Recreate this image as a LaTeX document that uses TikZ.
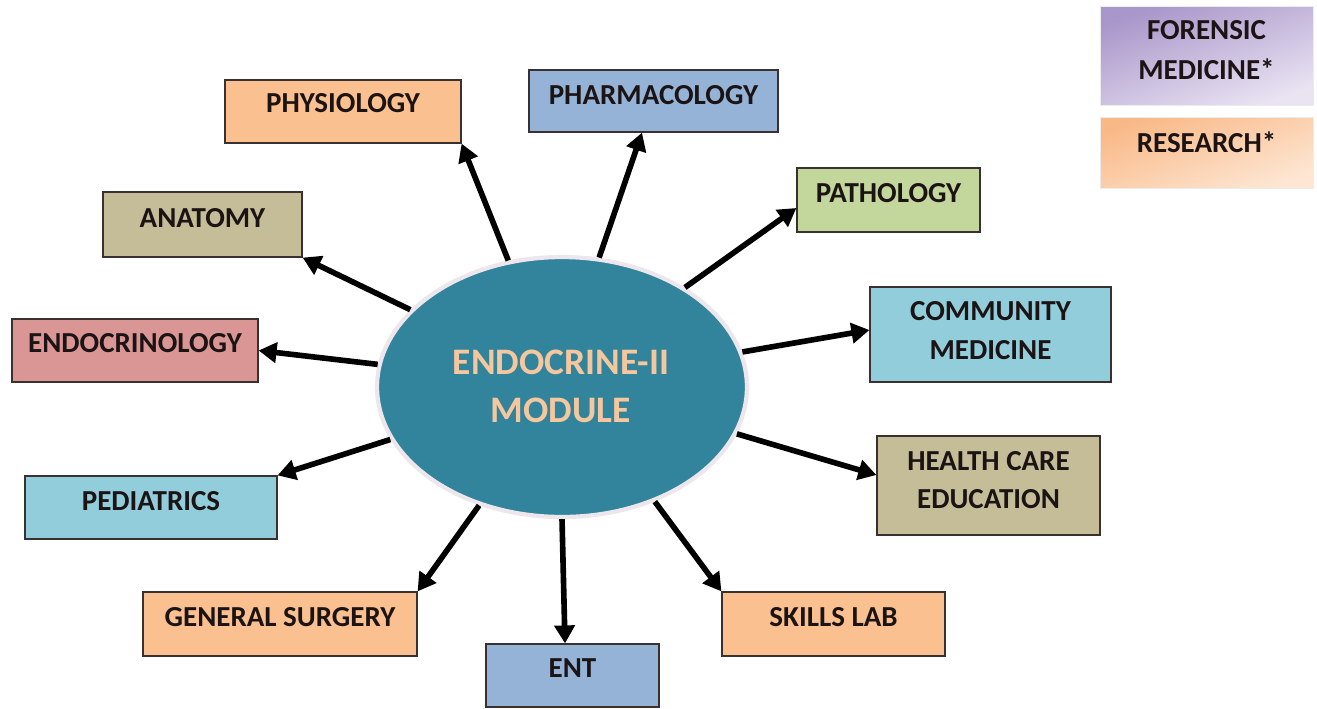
\documentclass[tikz,border=0pt]{standalone}
\usepackage{fontspec}
\setmainfont{Carlito}
\usetikzlibrary{arrows.meta,shapes.geometric,calc}
\definecolor{peach}{HTML}{FAC090}
\definecolor{steel}{HTML}{95B3D7}
\definecolor{olive}{HTML}{C3D69B}
\definecolor{aqua}{HTML}{92CDDC}
\definecolor{khaki}{HTML}{C4BD97}
\definecolor{rose}{HTML}{D99694}
\definecolor{teal}{HTML}{31849B}
\definecolor{etext}{HTML}{F5C79E}
\definecolor{boxline}{HTML}{3A3030}
\definecolor{txt}{HTML}{1C1414}
\definecolor{purpA}{HTML}{A996CA}
\definecolor{purpB}{HTML}{E9E3F2}
\definecolor{peachA}{HTML}{F9B987}
\definecolor{peachB}{HTML}{FDE6D3}
\definecolor{rim}{HTML}{EDE6EC}
\begin{document}
\begin{tikzpicture}[x=0.02cm,y=-0.02cm,
  box/.style={draw=boxline, line width=0.7pt, inner sep=0pt},
  lbl/.style={anchor=base, text=txt, font=\fontsize{16.5}{20}\selectfont\bfseries, inner sep=0pt},
  elbl/.style={anchor=base, text=etext, font=\fontsize{21.3}{26}\selectfont\bfseries, inner sep=0pt},
  arr/.style={line width=3.2pt, -{Triangle[length=0.36cm,width=0.40cm]}},
  sbox/.style={inner sep=0pt, draw=white!85!gray, line width=0.5pt}]
\useasboundingbox (0,0) rectangle (1317,708);
\fill[white] (0,0) rectangle (1317,708);

% central ellipse
\node[ellipse, draw=rim, line width=2.4pt, fill=teal, minimum width=7.40cm, minimum height=5.20cm, inner sep=0pt] (ell) at (562,387) {};
\node[elbl] (eT1) at (561,374) {ENDOCRINE-II};
\node[elbl] (eT2) at (561,422) {MODULE};

% boxes
\node[box, fill=peach, minimum width=4.72cm, minimum height=1.26cm] (phys) at (343,111.5) {};
\node[lbl] (physT) at (343,112.5) {PHYSIOLOGY};

\node[box, fill=steel, minimum width=4.98cm, minimum height=1.24cm] (pharm) at (653.5,101) {};
\node[lbl] (pharmT) at (653.5,104.5) {PHARMACOLOGY};

\node[box, fill=olive, minimum width=3.66cm, minimum height=1.28cm] (path) at (888.5,200) {};
\node[lbl] (pathT) at (888.5,202.5) {PATHOLOGY};

\node[box, fill=aqua, minimum width=4.82cm, minimum height=1.90cm] (comm) at (990.5,334.5) {};
\node[lbl] (commT1) at (990.5,320.5) {COMMUNITY};
\node[lbl] (commT2) at (990.5,359.5) {MEDICINE};

\node[box, fill=khaki, minimum width=4.46cm, minimum height=1.98cm] (health) at (988.5,485.5) {};
\node[lbl] (healthT1) at (988.5,470.5) {HEALTH CARE};
\node[lbl] (healthT2) at (988.5,508.5) {EDUCATION};

\node[box, fill=peach, minimum width=4.46cm, minimum height=1.28cm] (skills) at (833.5,624) {};
\node[lbl] (skillsT) at (833.5,626.5) {SKILLS LAB};

\node[box, fill=steel, minimum width=3.46cm, minimum height=1.26cm] (ent) at (572.5,675.5) {};
\node[lbl] (entT) at (572.5,677.5) {ENT};

\node[box, fill=peach, minimum width=5.48cm, minimum height=1.28cm] (gens) at (280,624) {};
\node[lbl] (gensT) at (280,626.5) {GENERAL SURGERY};

\node[box, fill=aqua, minimum width=5.04cm, minimum height=1.26cm] (peds) at (151,507.5) {};
\node[lbl] (pedsT) at (151,510.5) {PEDIATRICS};

\node[box, fill=rose, minimum width=4.92cm, minimum height=1.26cm] (endo) at (135,350.5) {};
\node[lbl] (endoT) at (135,352.5) {ENDOCRINOLOGY};

\node[box, fill=khaki, minimum width=3.98cm, minimum height=1.30cm] (anat) at (202.5,224.5) {};
\node[lbl] (anatT) at (202.5,227.5) {ANATOMY};

% side boxes
\node[sbox, top color=purpA, bottom color=purpB, shading angle=20, minimum width=4.26cm, minimum height=1.98cm] (foren) at (1206.5,55.5) {};
\node[lbl] (forenT1) at (1206.5,39.5) {FORENSIC};
\node[lbl] (forenT2) at (1206.5,79.5) {MEDICINE*};

\node[sbox, top color=peachA, bottom color=peachB, shading angle=20, minimum width=4.26cm, minimum height=1.42cm] (resch) at (1206.5,152.5) {};
\node[lbl] (reschT) at (1206.5,152.5) {RESEARCH*};

% arrows
\draw[arr] (ell.113.8) -- (phys.south east);
\draw[arr] (ell.74.5) -- ([xshift=-0.23cm]pharm.south);
\draw[arr] (ell.39) -- ([yshift=-0.16cm]path.west);
\draw[arr] (ell.11.6) -- ([yshift=0.09cm]comm.west);
\draw[arr] (ell.-15.3) -- ([yshift=0.21cm]health.west);
\draw[arr] (ell.-51.3) -- (skills.north west);
\draw[arr] (ell.-90.8) -- ([xshift=-0.15cm]ent.north);
\draw[arr] (ell.-125) -- (gens.north east);
\draw[arr] (ell.-163.4) -- (peds.north east);
\draw[arr] (ell.173.3) -- (endo.east);
\draw[arr] (ell.153.3) -- (anat.south east);
\end{tikzpicture}
\end{document}
